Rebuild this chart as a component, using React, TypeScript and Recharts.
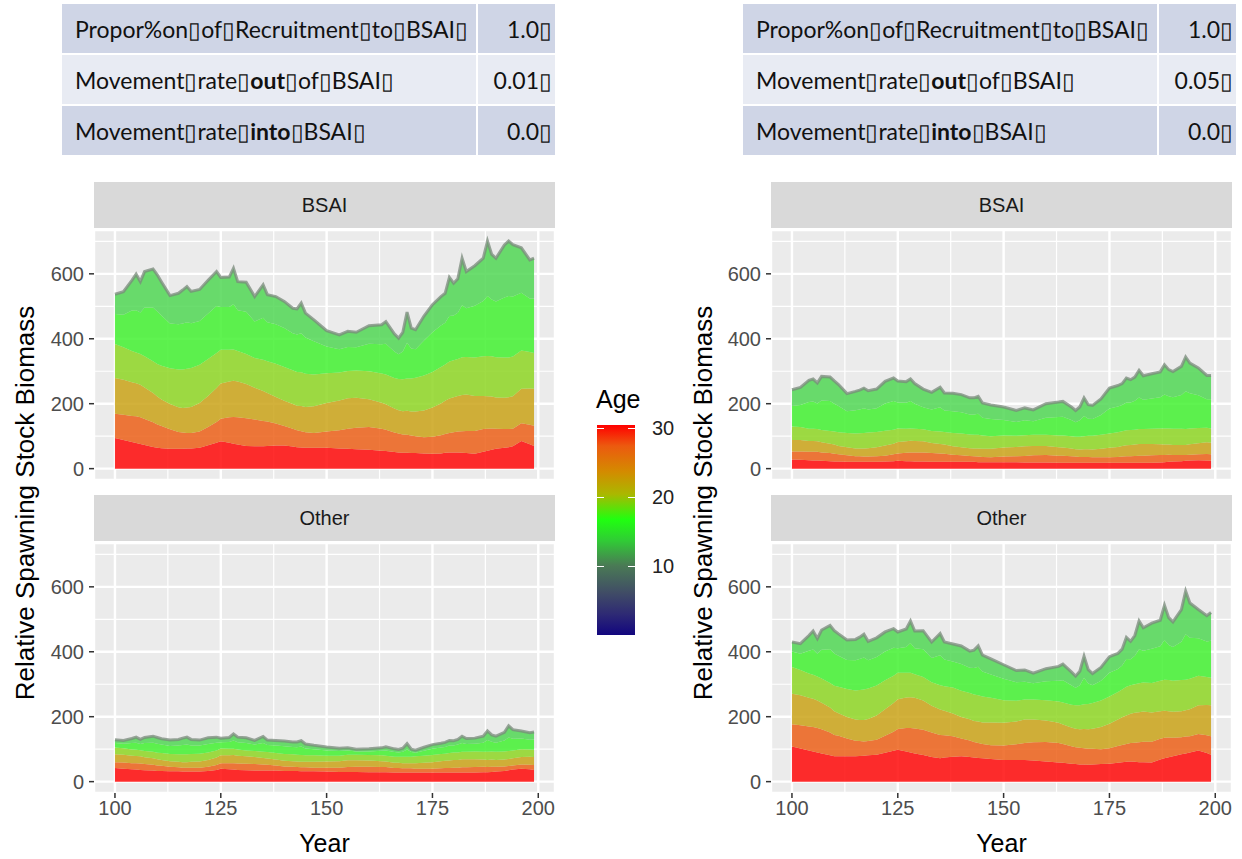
import { AreaChart, Area, XAxis, YAxis, CartesianGrid } from 'recharts';

// simulation years sampled from the plot (shared by every panel)
const years = [100, 102, 104, 105, 106, 107, 109, 110, 111, 113, 115, 116, 117, 118, 120, 122, 124, 125, 127, 128, 129, 131, 133, 135, 136, 138, 140, 142, 143, 144, 145, 147, 150, 153, 155, 157, 160, 163, 164, 166, 167, 168, 169, 170, 171, 173, 175, 177, 178, 179, 180, 181, 182, 183, 185, 187, 188, 189, 190, 192, 193, 194, 196, 198, 199];

// left figure, BSAI (out 0.01)
const lbAge30 = [94, 88, 82, 79, 76, 73, 67, 64, 63, 61, 61, 61, 62, 62, 64, 72, 80, 84, 80, 77, 74, 70, 69, 69, 70, 71, 71, 68, 66, 65, 64, 64, 64, 62, 61, 60, 58, 55, 54, 51, 50, 49, 49, 48, 48, 47, 46, 47, 49, 50, 50, 50, 49, 48, 46, 52, 55, 58, 61, 64, 66, 69, 85, 75, 70];
const lbAge25to29 = [75, 78, 80, 82, 82, 80, 76, 72, 68, 60, 52, 50, 48, 48, 50, 56, 64, 70, 78, 82, 84, 85, 82, 78, 75, 68, 60, 55, 52, 50, 48, 46, 50, 56, 62, 66, 70, 68, 66, 60, 58, 56, 55, 54, 52, 50, 52, 56, 58, 60, 62, 64, 66, 68, 70, 70, 68, 66, 62, 58, 56, 54, 55, 60, 62];
const lbAge20to24 = [110, 108, 104, 102, 100, 97, 90, 86, 82, 78, 76, 76, 78, 80, 88, 96, 104, 108, 110, 112, 110, 106, 98, 92, 88, 82, 78, 76, 76, 78, 78, 82, 88, 92, 94, 92, 86, 80, 78, 74, 72, 72, 74, 74, 76, 82, 90, 98, 102, 106, 108, 110, 112, 112, 108, 102, 100, 98, 96, 96, 98, 100, 106, 112, 114];
const lbAge16to19 = [105, 100, 96, 95, 95, 96, 98, 100, 104, 110, 116, 118, 120, 120, 118, 114, 108, 104, 98, 96, 94, 92, 92, 96, 98, 102, 104, 104, 104, 104, 102, 98, 92, 86, 84, 84, 86, 90, 92, 94, 96, 98, 100, 102, 104, 108, 110, 112, 112, 114, 114, 114, 116, 116, 118, 122, 124, 124, 124, 124, 122, 122, 118, 112, 110];
const lbAge12to15 = [92, 100, 125, 130, 128, 150, 165, 162, 155, 138, 140, 142, 143, 138, 135, 140, 145, 132, 132, 140, 126, 130, 112, 130, 120, 122, 120, 114, 115, 120, 112, 102, 82, 72, 74, 72, 85, 90, 95, 82, 76, 86, 110, 92, 88, 108, 122, 128, 128, 140, 138, 142, 160, 150, 160, 170, 185, 175, 172, 185, 190, 185, 178, 165, 168];
const lbAge1to11 = [61, 71, 93, 111, 95, 111, 119, 113, 103, 86, 95, 103, 110, 98, 97, 102, 106, 91, 92, 110, 88, 91, 77, 101, 85, 85, 82, 77, 79, 93, 75, 66, 49, 44, 48, 46, 55, 60, 68, 54, 50, 59, 94, 63, 60, 75, 85, 89, 91, 119, 99, 105, 145, 113, 123, 132, 169, 139, 133, 162, 169, 160, 138, 119, 124];

// left figure, Other
const loAge30 = [42, 40, 38, 37, 36, 35, 34, 33, 33, 32, 32, 31, 31, 31, 31, 33, 36, 40, 38, 37, 36, 35, 34, 34, 34, 34, 33, 33, 33, 32, 32, 32, 31, 30, 30, 30, 29, 29, 29, 28, 28, 28, 28, 28, 28, 28, 28, 28, 28, 28, 28, 28, 28, 28, 28, 29, 29, 30, 31, 33, 35, 37, 40, 38, 36];
const loAge25to29 = [18, 19, 19, 20, 20, 19, 18, 17, 16, 14, 12, 12, 12, 12, 12, 13, 15, 17, 19, 20, 20, 20, 20, 19, 18, 16, 14, 13, 12, 12, 12, 11, 12, 13, 15, 16, 17, 16, 16, 14, 14, 13, 13, 13, 12, 12, 12, 13, 14, 14, 15, 15, 16, 16, 17, 17, 16, 16, 15, 14, 13, 13, 13, 14, 15];
const loAge20to24 = [24, 24, 23, 22, 22, 21, 20, 19, 18, 17, 17, 17, 17, 18, 19, 21, 23, 24, 24, 25, 24, 23, 22, 20, 19, 18, 17, 17, 17, 17, 17, 18, 19, 20, 21, 20, 19, 18, 17, 16, 16, 16, 16, 16, 17, 18, 20, 22, 22, 23, 24, 24, 25, 25, 24, 22, 22, 22, 21, 21, 22, 22, 23, 25, 25];
const loAge16to19 = [21, 20, 19, 19, 19, 19, 20, 20, 21, 22, 23, 24, 24, 24, 24, 23, 22, 21, 20, 19, 19, 18, 18, 19, 20, 20, 21, 21, 21, 21, 20, 20, 18, 17, 17, 17, 17, 18, 18, 19, 19, 20, 20, 20, 21, 22, 22, 22, 22, 23, 23, 23, 23, 23, 24, 24, 25, 25, 25, 25, 24, 24, 24, 22, 22];
const loAge12to15 = [14, 14, 20, 22, 19, 25, 28, 28, 26, 25, 27, 29, 30, 26, 25, 26, 24, 19, 21, 26, 22, 23, 20, 27, 22, 23, 24, 23, 23, 26, 21, 19, 16, 14, 13, 10, 11, 14, 16, 14, 13, 15, 22, 14, 11, 15, 19, 20, 21, 23, 21, 24, 27, 24, 24, 28, 36, 30, 28, 34, 42, 36, 33, 30, 32];
const loAge1to11 = [10, 10, 14, 17, 14, 17, 20, 19, 18, 18, 19, 21, 23, 19, 17, 19, 17, 13, 14, 20, 16, 16, 13, 20, 15, 16, 16, 15, 16, 18, 14, 12, 11, 9, 8, 7, 8, 9, 11, 10, 9, 11, 18, 9, 8, 11, 13, 13, 14, 16, 15, 16, 21, 17, 17, 20, 28, 21, 20, 25, 36, 28, 23, 22, 23];

// right figure, BSAI (out 0.05)
const rbAge30 = [28, 27, 26, 25, 25, 24, 23, 22, 22, 21, 21, 21, 21, 21, 21, 22, 23, 24, 23, 23, 22, 22, 21, 21, 21, 21, 21, 21, 21, 20, 20, 20, 20, 20, 19, 19, 19, 18, 18, 18, 18, 18, 18, 18, 18, 18, 18, 18, 18, 18, 18, 18, 18, 18, 18, 19, 20, 21, 22, 23, 24, 25, 26, 25, 24];
const rbAge25to29 = [25, 26, 26, 27, 27, 26, 25, 24, 22, 20, 17, 17, 16, 16, 17, 18, 21, 23, 26, 27, 28, 28, 27, 26, 25, 22, 20, 18, 17, 17, 16, 15, 17, 18, 20, 22, 23, 22, 22, 20, 19, 18, 18, 18, 17, 17, 17, 18, 19, 20, 20, 21, 22, 22, 23, 23, 22, 22, 20, 19, 18, 18, 18, 20, 20];
const rbAge20to24 = [35, 35, 33, 33, 32, 31, 29, 28, 26, 25, 24, 24, 25, 26, 28, 31, 33, 35, 35, 36, 35, 34, 31, 29, 28, 26, 25, 24, 24, 25, 25, 26, 28, 29, 30, 29, 28, 26, 25, 24, 23, 23, 24, 24, 24, 26, 29, 31, 33, 34, 35, 35, 36, 36, 35, 33, 32, 31, 31, 31, 31, 32, 34, 36, 36];
const rbAge16to19 = [42, 40, 38, 38, 38, 38, 39, 40, 42, 44, 46, 47, 48, 48, 47, 46, 43, 42, 39, 38, 38, 37, 37, 38, 39, 41, 42, 42, 42, 42, 41, 39, 37, 34, 34, 34, 34, 36, 37, 38, 38, 39, 40, 41, 42, 43, 44, 45, 45, 46, 46, 46, 46, 46, 47, 49, 50, 50, 50, 50, 49, 49, 47, 45, 44];
const rbAge12to15 = [63, 68, 82, 84, 79, 91, 92, 86, 81, 67, 72, 73, 76, 71, 73, 84, 88, 80, 80, 84, 77, 68, 66, 75, 66, 67, 66, 62, 63, 65, 55, 53, 48, 43, 46, 42, 53, 57, 58, 50, 45, 51, 62, 53, 52, 61, 77, 79, 81, 86, 85, 89, 97, 90, 93, 96, 104, 99, 97, 104, 116, 108, 101, 88, 90];
const rbAge1to11 = [50, 54, 67, 69, 63, 74, 74, 70, 66, 54, 58, 60, 62, 58, 59, 68, 71, 66, 65, 68, 62, 56, 53, 62, 54, 55, 54, 51, 51, 54, 45, 43, 40, 35, 38, 35, 43, 46, 47, 40, 36, 41, 56, 43, 42, 50, 63, 65, 66, 75, 70, 73, 84, 74, 76, 78, 92, 82, 79, 88, 106, 93, 84, 73, 73];

// right figure, Other
const roAge30 = [108, 102, 96, 93, 90, 87, 81, 78, 78, 78, 78, 79, 80, 81, 83, 89, 95, 98, 93, 90, 87, 82, 76, 72, 74, 77, 78, 76, 74, 73, 72, 70, 67, 67, 67, 65, 62, 59, 58, 55, 54, 53, 53, 52, 53, 54, 55, 58, 60, 61, 62, 61, 60, 60, 59, 68, 72, 75, 78, 84, 87, 90, 96, 88, 83];
const roAge25to29 = [69, 72, 74, 75, 75, 74, 70, 66, 63, 55, 48, 46, 44, 44, 46, 52, 59, 64, 72, 75, 77, 78, 75, 72, 69, 63, 55, 51, 48, 46, 44, 42, 44, 48, 52, 56, 60, 60, 58, 54, 52, 51, 50, 49, 48, 46, 48, 52, 53, 55, 57, 59, 61, 63, 64, 64, 63, 61, 57, 53, 52, 50, 51, 55, 57];
const roAge20to24 = [94, 92, 88, 87, 85, 82, 77, 73, 70, 66, 65, 65, 66, 68, 75, 82, 88, 92, 94, 95, 94, 90, 83, 78, 75, 70, 66, 65, 65, 66, 66, 70, 70, 70, 72, 70, 66, 62, 60, 58, 57, 57, 59, 60, 62, 68, 75, 81, 85, 88, 90, 92, 93, 93, 90, 85, 83, 81, 80, 80, 81, 83, 88, 93, 95];
const roAge16to19 = [82, 78, 75, 74, 74, 75, 76, 78, 81, 86, 90, 92, 94, 94, 92, 89, 84, 81, 76, 75, 73, 72, 72, 75, 76, 80, 81, 81, 81, 81, 80, 76, 70, 64, 62, 62, 63, 66, 68, 70, 72, 74, 76, 78, 79, 82, 84, 85, 86, 88, 88, 88, 89, 89, 91, 94, 96, 96, 96, 96, 94, 94, 91, 86, 85];
const roAge12to15 = [48, 50, 70, 78, 70, 88, 104, 100, 96, 90, 93, 96, 98, 87, 88, 89, 86, 76, 80, 92, 80, 86, 75, 92, 82, 80, 82, 78, 82, 88, 77, 72, 66, 57, 55, 50, 58, 64, 68, 60, 54, 62, 82, 63, 55, 61, 73, 71, 74, 86, 80, 88, 105, 98, 105, 106, 122, 108, 104, 118, 140, 126, 116, 110, 114];
const roAge1to11 = [29, 31, 47, 57, 47, 61, 73, 70, 67, 61, 64, 67, 72, 58, 59, 60, 59, 50, 55, 68, 53, 57, 49, 67, 54, 54, 56, 51, 55, 64, 51, 48, 43, 36, 36, 31, 39, 44, 50, 41, 36, 43, 66, 43, 36, 41, 50, 48, 50, 66, 55, 62, 87, 71, 79, 80, 107, 84, 77, 99, 133, 107, 88, 79, 87];

const xTicks = [100, 125, 150, 175, 200];
const xMinorTicks = [112.5, 137.5, 162.5, 187.5];
const yTicks = [0, 200, 400, 600];
const yMinorTicks = [100, 300, 500, 700];
const ageTicks = [30, 20, 10];

// bottom of the stack first (plus group), youngest ages on top
const BANDS = [
  { key: 'age30', color: '#ff0000' },
  { key: 'age25to29', color: '#ec5a10' },
  { key: 'age20to24', color: '#c8a010' },
  { key: 'age16to19', color: '#8ad41c' },
  { key: 'age12to15', color: '#3cf02a' },
  { key: 'age1to11', color: '#4ad64e' },
];

const FONT = '"Liberation Sans", Arial, sans-serif';
const X_DOMAIN: [number, number] = [95.05, 203.95];
const Y_DOMAIN: [number, number] = [-35, 735];

function toRows(...bands: number[][]) {
  return years.map((year, i) => {
    const row: any = { year };
    BANDS.forEach((b, j) => { row[b.key] = bands[j][i]; });
    return row;
  });
}

const lbRows = toRows(lbAge30, lbAge25to29, lbAge20to24, lbAge16to19, lbAge12to15, lbAge1to11);
const loRows = toRows(loAge30, loAge25to29, loAge20to24, loAge16to19, loAge12to15, loAge1to11);
const rbRows = toRows(rbAge30, rbAge25to29, rbAge20to24, rbAge16to19, rbAge12to15, rbAge1to11);
const roRows = toRows(roAge30, roAge25to29, roAge20to24, roAge16to19, roAge12to15, roAge1to11);

function Panel({ rows, left, top, title, showX }: { rows: any[]; left: number; top: number; title: string; showX: boolean }) {
  const xHeight = 64;
  return (
    <>
      <div style={{
        position: 'absolute', left: left + 50, top: top - 48, width: 461, height: 46,
        background: '#d9d9d9', color: '#1a1a1a', fontFamily: FONT, fontSize: 20,
        display: 'flex', alignItems: 'center', justifyContent: 'center',
      }}>{title}</div>
      <div style={{ position: 'absolute', left, top }}>
        <AreaChart width={511} height={250 + (showX ? xHeight : 0)} data={rows} margin={{ top: 0, right: 0, bottom: 0, left: 0 }}>
          <XAxis
            dataKey="year" type="number" domain={X_DOMAIN} ticks={xTicks} interval={0} allowDataOverflow
            hide={!showX} height={xHeight} tickSize={5} tickMargin={3} axisLine={false}
            tickLine={{ stroke: '#333', strokeWidth: 1.5 }}
            tick={{ fill: '#4d4d4d', fontSize: 20, fontFamily: FONT }}
            label={{ value: 'Year', position: 'insideBottom', offset: 5, fill: '#000', fontSize: 25, fontFamily: FONT }}
          />
          <XAxis xAxisId="minor" dataKey="year" type="number" domain={X_DOMAIN} ticks={xMinorTicks} interval={0} allowDataOverflow hide />
          <YAxis
            type="number" domain={Y_DOMAIN} ticks={yTicks} interval={0} allowDataOverflow width={50}
            tickSize={5} tickMargin={5} axisLine={false}
            tickLine={{ stroke: '#333', strokeWidth: 1.5 }}
            tick={{ fill: '#4d4d4d', fontSize: 20, fontFamily: FONT }}
          />
          <YAxis yAxisId="minor" type="number" domain={Y_DOMAIN} ticks={yMinorTicks} interval={0} allowDataOverflow hide />
          <CartesianGrid fill="#ebebeb" fillOpacity={1} stroke="#ffffff" strokeWidth={2.4} />
          <CartesianGrid xAxisId="minor" yAxisId="minor" stroke="#ffffff" strokeWidth={1.2} />
          {BANDS.map((b, i) => (
            <Area
              key={b.key} dataKey={b.key} stackId="age" type="linear"
              fill={b.color} fillOpacity={0.82}
              stroke={i === BANDS.length - 1 ? '#7a8a7b' : 'none'}
              strokeWidth={i === BANDS.length - 1 ? 3 : 0}
              strokeOpacity={0.75}
              dot={false} activeDot={false} isAnimationActive={false}
            />
          ))}
        </AreaChart>
      </div>
    </>
  );
}

const BOX = '\u25AF';

function ParamTable({ left, outRate }: { left: number; outRate: string }) {
  const rows = [
    { label: <>Propor%on{BOX}of{BOX}Recruitment{BOX}to{BOX}BSAI{BOX}</>, value: `1.0${BOX}`, bg: '#cfd5e6' },
    { label: <>Movement{BOX}rate{BOX}<b>out</b>{BOX}of{BOX}BSAI{BOX}</>, value: `${outRate}${BOX}`, bg: '#e8ebf3' },
    { label: <>Movement{BOX}rate{BOX}<b>into</b>{BOX}BSAI{BOX}</>, value: `0.0${BOX}`, bg: '#cfd5e6' },
  ];
  return (
    <div style={{ position: 'absolute', left, top: 4, width: 493, fontFamily: 'Lato, "Open Sans", sans-serif', fontSize: 23, color: '#111' }}>
      {rows.map((r, i) => (
        <div key={i} style={{ display: 'flex', height: 49, marginBottom: 2 }}>
          <div style={{ width: 414, background: r.bg, display: 'flex', alignItems: 'center', paddingLeft: 13, boxSizing: 'border-box', whiteSpace: 'nowrap' }}>{r.label}</div>
          <div style={{ width: 77, marginLeft: 2, background: r.bg, display: 'flex', alignItems: 'center', justifyContent: 'flex-end', paddingRight: 3, boxSizing: 'border-box' }}>{r.value}</div>
        </div>
      ))}
    </div>
  );
}

function YTitle({ cx }: { cx: number }) {
  return (
    <div style={{
      position: 'absolute', left: cx, top: 503, transform: 'translate(-50%, -50%) rotate(-90deg)',
      whiteSpace: 'nowrap', fontFamily: FONT, fontSize: 26, color: '#000',
    }}>Relative Spawning Stock Biomass</div>
  );
}

function AgeLegend() {
  const barTop = 425;
  const barHeight = 210;
  const unit = 6.9;
  return (
    <>
      <div style={{ position: 'absolute', left: 596, top: 387, fontFamily: FONT, fontSize: 25, lineHeight: '25px', color: '#000' }}>Age</div>
      <div style={{
        position: 'absolute', left: 597, top: barTop, width: 38, height: barHeight,
        background: 'linear-gradient(to top, #12067f 0%, #2e2a74 10%, #404c66 20%, #4a7a55 33%, #30cc35 45%, #20ff10 55%, #aab800 67%, #d48a00 78%, #ec5a0f 90%, #ff0000 100%)',
      }} />
      {ageTicks.map(a => {
        const y = barTop + barHeight - a * unit;
        return (
          <div key={a}>
            <div style={{ position: 'absolute', left: 597, top: y - 0.5, width: 7, height: 1.2, background: '#fff' }} />
            <div style={{ position: 'absolute', left: 628, top: y - 0.5, width: 7, height: 1.2, background: '#fff' }} />
            <div style={{ position: 'absolute', left: 652, top: y - 11, fontFamily: FONT, fontSize: 20, lineHeight: '22px', color: '#222' }}>{a}</div>
          </div>
        );
      })}
    </>
  );
}

export default function App() {
  return (
    <div style={{ position: 'absolute', left: 0, top: 0, width: 1242, height: 859, background: '#fff', overflow: 'hidden' }}>
      <ParamTable left={62} outRate="0.01" />
      <ParamTable left={743} outRate="0.05" />
      <YTitle cx={25} />
      <YTitle cx={703} />
      <Panel rows={lbRows} left={44} top={230} title="BSAI" showX={false} />
      <Panel rows={loRows} left={44} top={543} title="Other" showX />
      <Panel rows={rbRows} left={721} top={230} title="BSAI" showX={false} />
      <Panel rows={roRows} left={721} top={543} title="Other" showX />
      <AgeLegend />
    </div>
  );
}
